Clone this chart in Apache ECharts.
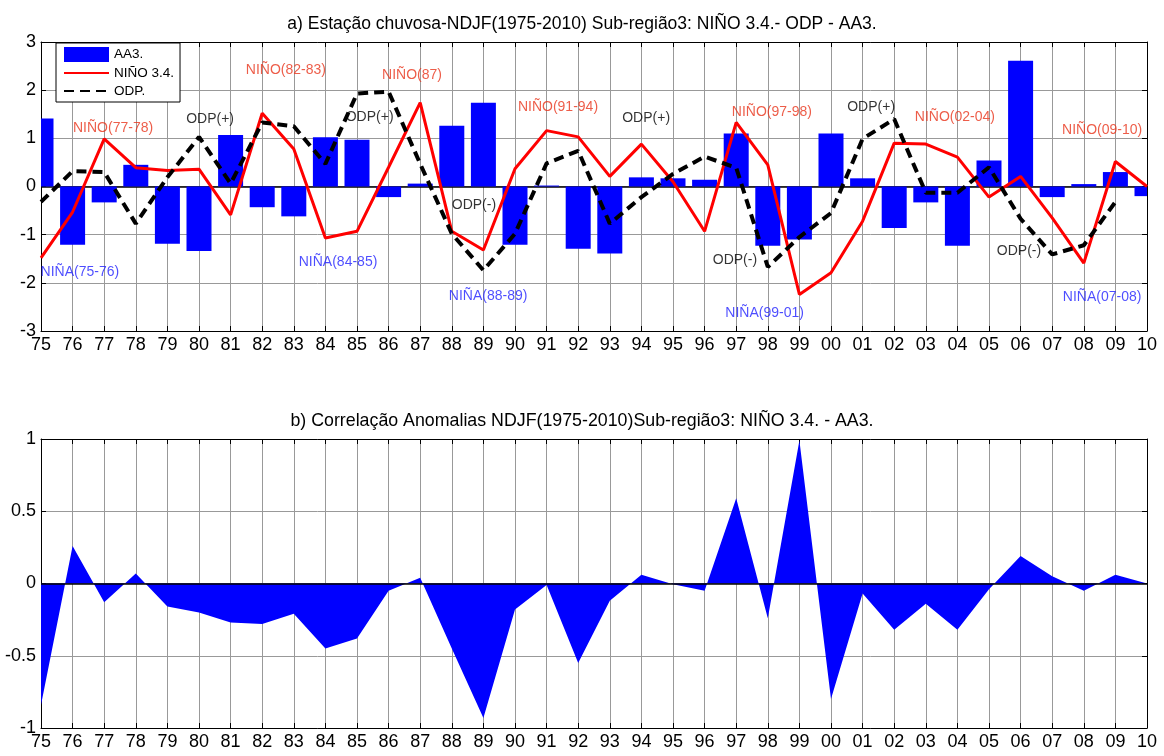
<!DOCTYPE html>
<html>
<head>
<meta charset="utf-8">
<script src="https://cdn.jsdelivr.net/npm/echarts@6/dist/echarts.min.js"></script>
<style>
html,body{margin:0;padding:0;background:#fff;}
#main{width:1164px;height:756px;}
</style>
</head>
<body>
<div id="main"></div>
<script>
// ---- data ----
const years = [1975,1976,1977,1978,1979,1980,1981,1982,1983,1984,1985,1986,1987,1988,1989,1990,1991,1992,1993,1994,1995,1996,1997,1998,1999,2000,2001,2002,2003,2004,2005,2006,2007,2008,2009,2010];
const aa3 = [1.41,-1.21,-0.33,0.45,-1.19,-1.34,1.07,-0.43,-0.62,1.02,0.97,-0.22,0.06,1.26,1.74,-1.21,0.02,-1.29,-1.39,0.19,0.17,0.14,1.10,-1.23,-1.10,1.10,0.17,-0.86,-0.33,-1.23,0.54,2.61,-0.22,0.05,0.30,-0.20];
const nino34 = [-1.48,-0.53,0.99,0.39,0.33,0.36,-0.59,1.52,0.78,-1.07,-0.93,0.40,1.74,-0.93,-1.32,0.37,1.16,1.03,0.21,0.88,0.10,-0.93,1.33,0.45,-2.24,-1.79,-0.72,0.90,0.88,0.61,-0.22,0.21,-0.65,-1.59,0.52,0.0];
const odp = [-0.32,0.32,0.30,-0.77,0.19,1.03,0.06,1.33,1.25,0.47,1.93,1.97,0.47,-0.98,-1.74,-0.98,0.48,0.74,-0.77,-0.22,0.26,0.62,0.39,-1.67,-1.05,-0.55,0.99,1.40,-0.13,-0.13,0.40,-0.67,-1.41,-1.22,-0.32,null];
const corr = [-0.84,0.26,-0.13,0.07,-0.16,-0.20,-0.27,-0.28,-0.21,-0.45,-0.38,-0.05,0.04,-0.45,-0.93,-0.18,-0.01,-0.55,-0.12,0.06,-0.005,-0.05,0.59,-0.24,0.99,-0.80,-0.07,-0.32,-0.14,-0.32,-0.04,0.19,0.05,-0.05,0.06,0.0];
// annotations: [x, y, text]
const ninoNotes = [[1977.28,1.21,'NIÑO(77-78)'],[1982.75,2.42,'NIÑO(82-83)'],[1986.74,2.31,'NIÑO(87)'],[1991.36,1.65,'NIÑO(91-94)'],[1998.13,1.55,'NIÑO(97-98)'],[2003.92,1.44,'NIÑO(02-04)'],[2008.58,1.17,'NIÑO(09-10)']];
const ninaNotes = [[1976.23,-1.77,'NIÑA(75-76)'],[1984.4,-1.57,'NIÑA(84-85)'],[1989.15,-2.27,'NIÑA(88-89)'],[1997.9,-2.62,'NIÑA(99-01)'],[2008.58,-2.29,'NIÑA(07-08)']];
const odpNotes = [[1980.35,1.40,'ODP(+)'],[1985.4,1.44,'ODP(+)'],[1988.7,-0.38,'ODP(-)'],[1994.15,1.42,'ODP(+)'],[1996.96,-1.52,'ODP(-)'],[2001.27,1.65,'ODP(+)'],[2005.95,-1.34,'ODP(-)']];
const titleA = 'a) Estação chuvosa-NDJF(1975-2010) Sub-região3: NIÑO 3.4.- ODP - AA3.';
const titleB = 'b) Correlação Anomalias NDJF(1975-2010)Sub-região3: NIÑO 3.4. - AA3.';

// ---- chart ----
const FONT = '"Liberation Sans",Arial,sans-serif';
const chart = echarts.init(document.getElementById('main'), null, {renderer:'canvas'});
const pair = (arr) => years.map((y,i)=>[y,arr[i]]);
const gridColor = '#999999';
const BAR_W = 25;

function xAx(gi, pos, main){
  return {
    type:'value', gridIndex:gi, position:pos, min:1975, max:2010, interval:1,
    axisLine:{show:true,onZero:false,lineStyle:{color:'#000',width:1}},
    axisTick:{show:true,inside:true,length:5,lineStyle:{color:'#000'}},
    axisLabel:{show:main,margin:5,color:'#000',fontFamily:FONT,fontSize:18,
      formatter:(v)=>String(v).slice(2)},
    splitLine:{show:main,lineStyle:{color:gridColor,width:1}}
  };
}
function yAx(gi, pos, main, mn, mx, itv){
  return {
    type:'value', gridIndex:gi, position:pos, min:mn, max:mx, interval:itv,
    axisLine:{show:true,onZero:false,lineStyle:{color:'#000',width:1}},
    axisTick:{show:true,inside:true,length:5,lineStyle:{color:'#000'}},
    axisLabel:{show:main,margin:5,color:'#000',fontFamily:FONT,fontSize:18},
    splitLine:{show:main,lineStyle:{color:gridColor,width:1}}
  };
}
function noteSeries(notes,color){
  return {
    type:'scatter', xAxisIndex:0, yAxisIndex:0, symbolSize:0, silent:true, z:5,
    data:notes,
    label:{show:true,position:'inside',color:color,fontFamily:FONT,fontSize:14,
      formatter:(p)=>p.data[2]}
  };
}
function renderBar(params, api){
  const x = api.value(0), y = api.value(1);
  const p0 = api.coord([x,0]);
  const p1 = api.coord([x,y]);
  const rect = {x:p0[0]-BAR_W/2, y:Math.min(p0[1],p1[1]), width:BAR_W, height:Math.abs(p1[1]-p0[1])};
  const cs = params.coordSys;
  const clipped = echarts.graphic.clipRectByRect(rect,{x:cs.x,y:cs.y,width:cs.width,height:cs.height});
  if(!clipped) return null;
  return {type:'rect', shape:clipped, style:{fill:'#0000ff'}};
}

const option = {
  animation:false,
  backgroundColor:'#fff',
  title:[
    {text:titleA,left:'center',top:10,padding:[5,0,5,22],textStyle:{fontFamily:FONT,fontSize:17.5,fontWeight:'normal',color:'#000'}},
    {text:titleB,left:'center',top:407,padding:[5,0,5,34],textStyle:{fontFamily:FONT,fontSize:17.8,fontWeight:'normal',color:'#000'}}
  ],
  legend:{
    orient:'vertical', left:56, top:43, padding:[4,6,4,7], itemGap:4,
    itemWidth:45, itemHeight:15,
    backgroundColor:'#fff', borderColor:'#000', borderWidth:1, borderRadius:0,
    textStyle:{fontFamily:FONT,fontSize:13.5,color:'#000'},
    data:[{name:'AA3.',icon:'rect',itemStyle:{color:'#0000ff'}},
          {name:'NIÑO 3.4.',itemStyle:{opacity:0}},
          {name:'ODP.',itemStyle:{opacity:0}}]
  },
  grid:[
    {left:41,right:17,top:42,height:289,containLabel:false},
    {left:41,right:17,top:439,height:289,containLabel:false}
  ],
  xAxis:[xAx(0,'bottom',true),xAx(0,'top',false),xAx(1,'bottom',true),xAx(1,'top',false)],
  yAxis:[yAx(0,'left',true,-3,3,1),yAx(0,'right',false,-3,3,1),yAx(1,'left',true,-1,1,0.5),yAx(1,'right',false,-1,1,0.5)],
  series:[
    {name:'AA3.',type:'custom',xAxisIndex:0,yAxisIndex:0,data:pair(aa3),renderItem:renderBar,
      encode:{x:0,y:1},itemStyle:{color:'#0000ff'},z:2},
    {name:'NIÑO 3.4.',type:'line',xAxisIndex:0,yAxisIndex:0,data:pair(nino34),symbol:'none',z:3,
      lineStyle:{color:'#ff0000',width:3},itemStyle:{color:'#ff0000'},
      markLine:{silent:true,symbol:'none',z:2,label:{show:false},lineStyle:{color:'#000',width:1.5,type:'solid'},data:[{yAxis:0}]}},
    {name:'ODP.',type:'line',xAxisIndex:0,yAxisIndex:0,data:pair(odp),symbol:'none',z:4,
      lineStyle:{color:'#000',width:4,type:[10,6]},itemStyle:{color:'#000'}},
    noteSeries(ninoNotes,'#e8341c'),
    noteSeries(ninaNotes,'#1f1fff'),
    noteSeries(odpNotes,'#000'),
    {name:'corr',type:'line',xAxisIndex:2,yAxisIndex:2,data:pair(corr),symbol:'none',
      lineStyle:{width:0,color:'#0000ff'},areaStyle:{color:'#0000ff',opacity:1},itemStyle:{color:'#0000ff'},
      markLine:{silent:true,symbol:'none',label:{show:false},lineStyle:{color:'#000',width:1.5,type:'solid'},data:[{yAxis:0}]}}
  ]
};
chart.setOption(option);
</script>
</body>
</html>
